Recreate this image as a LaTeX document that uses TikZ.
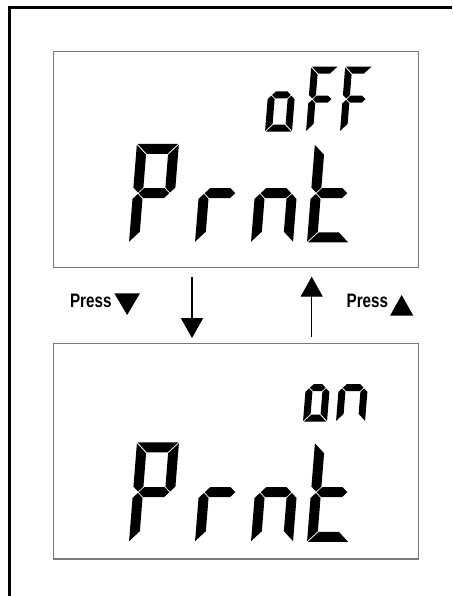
\documentclass[tikz,border=0pt]{standalone}
\usepackage{fontspec}
\usepackage{xcolor}
\usepackage{tikz}
\usetikzlibrary{positioning, arrows.meta}
\newfontfamily\pressfont[FakeStretch=0.78]{Liberation Sans}
\definecolor{boxgray}{HTML}{7A7A7A}

% seven segment glyphs, cell size set by \lcdchar
\def\lcdD{0.8}\def\lcdE{0.7}
\newcommand{\lcdsega}{\fill[lcdseg] (\lcdD,\lcdH) -- ({\lcdW-\lcdD},\lcdH) -- ({\lcdW-\lcdT-\lcdD},{\lcdH-\lcdT}) -- ({\lcdT+\lcdD},{\lcdH-\lcdT}) -- cycle;}
\newcommand{\lcdsegd}{\fill[lcdseg] (\lcdD,0) -- ({\lcdW-\lcdD},0) -- ({\lcdW-\lcdT-\lcdD},\lcdT) -- ({\lcdT+\lcdD},\lcdT) -- cycle;}
\newcommand{\lcdsegg}{\fill[lcdseg] ({\lcdh+\lcdE},\lcdM) -- ({\lcdT+\lcdE},{\lcdM+\lcdh}) -- ({\lcdW-\lcdT-\lcdE},{\lcdM+\lcdh}) -- ({\lcdW-\lcdh-\lcdE},\lcdM) -- ({\lcdW-\lcdT-\lcdE},{\lcdM-\lcdh}) -- ({\lcdT+\lcdE},{\lcdM-\lcdh}) -- cycle;}
\newcommand{\lcdsegf}{\fill[lcdseg] (0,{\lcdH-\lcdD}) -- (\lcdT,{\lcdH-\lcdT-\lcdD}) -- (\lcdT,{\lcdM+\lcdh+\lcdE}) -- (\lcdh,{\lcdM+\lcdE}) -- (0,{\lcdM+\lcdh+\lcdE}) -- cycle;}
\newcommand{\lcdsege}{\fill[lcdseg] (0,\lcdD) -- (\lcdT,{\lcdT+\lcdD}) -- (\lcdT,{\lcdM-\lcdh-\lcdE}) -- (\lcdh,{\lcdM-\lcdE}) -- (0,{\lcdM-\lcdh-\lcdE}) -- cycle;}
\newcommand{\lcdsegb}{\fill[lcdseg] (\lcdW,{\lcdH-\lcdD}) -- ({\lcdW-\lcdT},{\lcdH-\lcdT-\lcdD}) -- ({\lcdW-\lcdT},{\lcdM+\lcdh+\lcdE}) -- ({\lcdW-\lcdh},{\lcdM+\lcdE}) -- (\lcdW,{\lcdM+\lcdh+\lcdE}) -- cycle;}
\newcommand{\lcdsegc}{\fill[lcdseg] (\lcdW,\lcdD) -- ({\lcdW-\lcdT},{\lcdT+\lcdD}) -- ({\lcdW-\lcdT},{\lcdM-\lcdh-\lcdE}) -- ({\lcdW-\lcdh},{\lcdM-\lcdE}) -- (\lcdW,{\lcdM-\lcdh-\lcdE}) -- cycle;}

% #1 lower left corner, #2 width, #3 height, #4 stroke, #5 segments
\newcommand{\lcdchar}[5]{%
  \begin{scope}[shift={#1}, xslant=0.08]
    \def\lcdW{#2}\def\lcdH{#3}\def\lcdT{#4}%
    \pgfmathsetmacro\lcdM{#3/2}\pgfmathsetmacro\lcdh{#4/2}%
    \foreach \seg in {#5}{\csname lcdseg\seg\endcsname}
  \end{scope}}

\tikzset{
  lcdbox/.style={draw=boxgray, line width=1.3pt, fill=white, inner sep=0pt, outer sep=0pt,
                 minimum width=365pt, minimum height=215.6pt},
  lcdseg/.style={fill=black},
  pressarrow/.style={line width=1.3pt, -{Triangle[width=22pt, length=20pt]}},
  presslabel/.style={font=\pressfont\bfseries\fontsize{19.5}{20}\selectfont, inner sep=0pt},
  frameline/.style={line width=3pt}
}

\begin{document}
\begin{tikzpicture}[x=1pt, y=1pt]
    \useasboundingbox (0,0) rectangle (452,596);
    \draw[frameline] (452,588.2) -| (9.7,0);

    % displays
    \node[lcdbox] (dispoff) at (235.8,436.5) {};
    \node[lcdbox] (dispon) at (235.8,144.8) {};

    % oFF
    \lcdchar{(265,464.3)}{27}{73.5}{7}{c,d,e,g}
    \lcdchar{(306,464.3)}{27}{65}{7}{a,f,e,g}
    \lcdchar{(340,464.3)}{27}{65}{7}{a,f,e,g}
    % Prnt
    \lcdchar{(129,353.5)}{42}{98.5}{10}{a,b,f,g,e}
    \lcdchar{(195,353.5)}{42}{98.5}{10}{e,g}
    \lcdchar{(251,353.5)}{42}{98.5}{10}{e,g,c}
    \lcdchar{(307,353.5)}{42}{98.5}{10}{f,e,g,d}

    % on
    \lcdchar{(303,174.3)}{24}{68}{7}{c,d,e,g}
    \lcdchar{(336,174.3)}{29}{68}{7}{c,e,g}
    % Prnt
    \lcdchar{(129,54)}{42}{99.5}{10}{a,b,f,g,e}
    \lcdchar{(195,54)}{42}{99.5}{10}{e,g}
    \lcdchar{(251,54)}{42}{99.5}{10}{e,g,c}
    \lcdchar{(307,54)}{42}{99.5}{10}{f,e,g,d}

    % keys
    \node[presslabel, anchor=base east] (pressdown) at (111.7,288.3) {Press};
    \fill (pressdown.base east) ++(2.6,14.4) -- ++(25.7,0) -- ++(-12.85,-21.7) -- cycle;
    \node[presslabel, anchor=base east] (pressup) at (388.3,288) {Press};
    \fill (pressup.base east) ++(1.7,-7.7) -- ++(23.3,0) -- ++(-11.65,20.7) -- cycle;

    \draw[pressarrow, shorten <=9.7pt, shorten >=5.3pt]
      ([xshift=-43.8pt]dispoff.south) -- ([xshift=-43.8pt]dispon.north);
    \draw[pressarrow, shorten <=6.3pt, shorten >=9.4pt]
      ([xshift=75.9pt]dispon.north) -- ([xshift=75.9pt]dispoff.south);
\end{tikzpicture}
\end{document}
